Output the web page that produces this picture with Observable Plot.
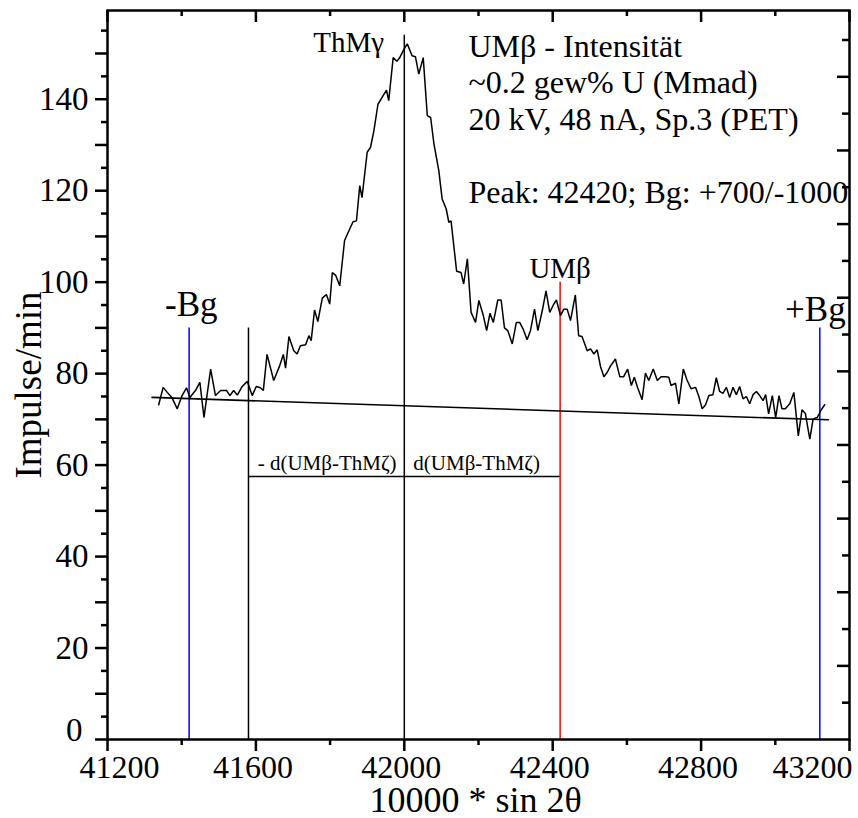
<!DOCTYPE html>
<html><head><meta charset="utf-8">
<script src="https://cdn.jsdelivr.net/npm/d3@7"></script>
<script src="https://cdn.jsdelivr.net/npm/@observablehq/plot@0.6"></script>
<style>html,body{margin:0;padding:0;background:#fff;}</style>
</head><body><div id="chart"></div>
<script>
// scan: 10000*sin2θ vs Impulse/min
const scanX = [41338,41350,41361,41374,41388,41401,41413,41422,41437,41449,41460,41478,41491,41505,41521,41530,41540,41550,41563,41577,
41590,41601,41612,41620,41630,41648,41664,41674,41680,41689,41702,41711,41720,41734,41743,41749,41758,41767,41779,41790,
41799,41806,41815,41826,41839,41855,41862,41871,41880,41886,41900,41909,41918,41929,41943,41952,41958,41970,41980,41987,
41999,42008,42021,42030,42039,42051,42062,42071,42080,42093,42102,42113,42120,42126,42141,42153,42160,42170,42180,42192,
42201,42213,42222,42231,42240,42252,42261,42270,42279,42291,42302,42311,42320,42331,42340,42351,42360,42372,42382,42392,
42401,42410,42421,42430,42439,42448,42461,42470,42479,42493,42502,42511,42520,42529,42538,42547,42556,42569,42581,42591,
42602,42612,42620,42629,42641,42650,42659,42671,42682,42692,42704,42713,42719,42731,42740,42752,42762,42773,42785,42794,
42803,42812,42821,42832,42841,42850,42859,42868,42877,42886,42895,42904,42913,42922,42931,42940,42949,42958,42967,42974,
42982,42992,43001,43010,43018,43027,43039,43050,43062,43072,43081,43093,43102,43113,43124,43133];
const scanY = [73.2,77.0,75.9,74.7,72.3,75.2,76.9,74.8,76.3,78.1,70.4,81.0,75.2,76.3,76.3,75.2,76.3,75.3,77.2,78.3,
75.2,77.2,76.9,76.3,84.2,78.5,81.7,84.2,81.2,88.1,85.0,84.3,86.1,86.3,88.3,87.2,93.9,91.4,96.5,97.3,
95.2,102.1,101.5,99.2,109.1,112.0,113.2,113.4,121.1,118.5,128.4,129.5,133.1,138.9,140.8,142.0,139.7,149.1,148.3,149.0,
150.9,152.1,149.5,149.3,145.5,149.1,136.4,136.0,130.2,124.4,118.2,116.0,113.1,113.4,102.4,102.1,99.6,105.1,93.4,91.2,
96.0,92.7,89.4,93.2,91.2,96.1,96.1,90.0,89.4,86.5,91.2,91.2,89.8,87.4,89.4,94.1,89.4,93.8,98.1,93.4,
94.9,96.1,92.7,94.1,94.1,91.6,97.2,88.3,88.1,85.0,85.4,84.3,85.2,81.5,79.3,80.3,81.7,83.2,79.3,79.3,
81.0,77.4,79.2,76.9,74.3,80.1,78.5,81.0,78.5,79.3,79.3,79.2,77.4,77.9,73.4,81.0,78.6,76.7,77.0,75.0,
72.3,73.2,75.2,75.4,79.1,76.1,75.7,77.0,74.8,77.0,75.4,77.2,74.5,75.0,73.4,75.4,76.1,75.2,74.1,75.4,
71.2,75.2,70.4,75.2,72.3,72.3,73.4,75.9,66.4,72.1,71.3,65.7,70.1,70.4,72.1,73.2];

// background line (linear)
const baseX = [41320, 43143];
const baseY = [74.8, 69.9];

// marker lines
const bgMarkX = [41420, 43120];
const bgMarkTop = [90, 90];
const refMarkX = [41580, 42000];
const refMarkTop = [90, 154];
const peakMarkX = [42420];
const peakMarkTop = [100];

// distance bar
const distX = [41580, 42420];
const distY = 57.5;
const distLabels = ["- d(UMβ-ThMζ)", "d(UMβ-ThMζ)"];
const distLabelX = [41792, 42195];
const distLabelY = 59;

// annotations
const bgLabels = ["-Bg", "+Bg"];
const bgLabelX = [41426, 43108];
const bgLabelY = [92.7, 91.6];
const lineLabels = ["ThMγ", "UMβ"];
const lineLabelX = [41850, 42420];
const lineLabelY = [150.4, 101];
const infoLines = ["UMβ - Intensität", "~0.2 gew% U (Mmad)", "20 kV, 48 nA, Sp.3 (PET)", "", "Peak: 42420; Bg: +700/-1000"];
const infoX = 42173;
const infoY = 117.4;

// axes
const xLabelTicks = [41200, 41600, 42000, 42400, 42800, 43200];
const xMinorTicks = [41400, 41800, 42200, 42600, 43000];
const yLabelTicks = [0, 20, 40, 60, 80, 100, 120, 140];
const yTens = d3.range(0, 160, 10);
const yFives = d3.range(5, 160, 10);
const rightTicksLong = d3.range(2, 20, 2).map(k => k * 8.05);
const rightTicksShort = d3.range(1, 20, 2).map(k => k * 8.05);
const xTitle = "10000 * sin 2θ";
const yTitle = "Impulse/min";

const scan = scanX.map((x, i) => ({x, y: scanY[i]}));
const base = baseX.map((x, i) => ({x, y: baseY[i]}));

const W = 858, H = 818, mL = 107, mR = 9, mT = 10, mB = 79;
const fw = W - mL - mR, fh = H - mT - mB;
const F = "'Liberation Serif', 'Times New Roman', serif";
const num = d => String(d);

const chart = Plot.plot({
  width: W, height: H,
  marginLeft: mL, marginRight: mR, marginTop: mT, marginBottom: mB,
  x: {domain: [41200, 43200], axis: null},
  y: {domain: [0, 159.4], axis: null},
  style: {fontFamily: F, background: "white", color: "black"},
  marks: [
    // marker rules
    Plot.ruleX(bgMarkX, {x: d => d, y1: 0, y2: (d, i) => bgMarkTop[i], stroke: "#0000ff", strokeWidth: 1.5}),
    Plot.ruleX(refMarkX, {x: d => d, y1: 0, y2: (d, i) => refMarkTop[i], stroke: "black", strokeWidth: 1.5}),
    Plot.ruleX(peakMarkX, {x: d => d, y1: 0, y2: (d, i) => peakMarkTop[i], stroke: "#ff0000", strokeWidth: 1.5}),
    Plot.ruleY([distY], {y: d => d, x1: distX[0], x2: distX[1], stroke: "black", strokeWidth: 1.5}),
    // background line
    Plot.line(base, {x: "x", y: "y", stroke: "black", strokeWidth: 1.6}),
    // scan
    Plot.line(scan, {x: "x", y: "y", stroke: "black", strokeWidth: 1.5, strokeLinejoin: "miter"}),
    // frame
    Plot.frame({stroke: "black", strokeWidth: 2.5}),
    // bottom ticks (outward)
    Plot.tickX(xLabelTicks, {x: d => d, insetTop: fh, insetBottom: -12, stroke: "black", strokeWidth: 2.5}),
    Plot.tickX(xMinorTicks, {x: d => d, insetTop: fh, insetBottom: -6, stroke: "black", strokeWidth: 2.5}),
    // top ticks (inward)
    Plot.tickX(xLabelTicks, {x: d => d, insetTop: 0, insetBottom: fh - 12, stroke: "black", strokeWidth: 2.5}),
    Plot.tickX(xMinorTicks, {x: d => d, insetTop: 0, insetBottom: fh - 6, stroke: "black", strokeWidth: 2.5}),
    // left ticks (outward)
    Plot.tickY(yTens, {y: d => d, insetLeft: -12, insetRight: fw, stroke: "black", strokeWidth: 2.5}),
    Plot.tickY(yFives, {y: d => d, insetLeft: -6, insetRight: fw, stroke: "black", strokeWidth: 2.5}),
    // right ticks (inward)
    Plot.tickY(rightTicksLong, {y: d => d, insetLeft: fw - 12, insetRight: 0, stroke: "black", strokeWidth: 2.5}),
    Plot.tickY(rightTicksShort, {y: d => d, insetLeft: fw - 7, insetRight: 0, stroke: "black", strokeWidth: 2.5}),
    // x tick labels
    Plot.text(xLabelTicks.slice(0, 1), {x: d => d, text: num, frameAnchor: "bottom", dy: 38, dx: 12, lineAnchor: "bottom", textAnchor: "middle", fontSize: 32, fontFamily: F, fill: "black"}),
    Plot.text(xLabelTicks.slice(1, -1), {x: d => d, text: num, frameAnchor: "bottom", dy: 38, dx: -3, lineAnchor: "bottom", textAnchor: "middle", fontSize: 32, fontFamily: F, fill: "black"}),
    Plot.text(xLabelTicks.slice(-1), {x: d => d, text: num, frameAnchor: "bottom", dy: 38, dx: 3, lineAnchor: "bottom", textAnchor: "end", fontSize: 32, fontFamily: F, fill: "black"}),
    // y tick labels
    Plot.text(yLabelTicks.slice(0, 1), {y: d => d, text: num, frameAnchor: "left", dx: -25, dy: -9, textAnchor: "end", lineAnchor: "middle", fontSize: 33, fontFamily: F, fill: "black"}),
    Plot.text(yLabelTicks.slice(1), {y: d => d, text: num, frameAnchor: "left", dx: -19, textAnchor: "end", lineAnchor: "middle", fontSize: 33, fontFamily: F, fill: "black"}),
    // axis titles
    Plot.text([xTitle], {frameAnchor: "bottom", dy: 72, dx: -3, lineAnchor: "bottom", textAnchor: "middle", fontSize: 36, fontFamily: F, fill: "black"}),
    Plot.text([yTitle], {frameAnchor: "left", dx: -67, dy: 10, rotate: -90, lineAnchor: "bottom", textAnchor: "middle", fontSize: 37, fontFamily: F, fill: "black"}),
    // annotations
    Plot.text(bgLabels, {x: (d, i) => bgLabelX[i], y: (d, i) => bgLabelY[i], text: d => d, lineAnchor: "bottom", textAnchor: "middle", fontSize: 35, fontFamily: F, fill: "black"}),
    Plot.text(lineLabels, {x: (d, i) => lineLabelX[i], y: (d, i) => lineLabelY[i], text: d => d, lineAnchor: "bottom", textAnchor: "middle", fontSize: 29, fontFamily: F, fill: "black"}),
    Plot.text(distLabels, {x: (d, i) => distLabelX[i], y: distLabelY, text: d => d, lineAnchor: "bottom", textAnchor: "middle", fontSize: 21, fontFamily: F, fill: "black"}),
    Plot.text([infoLines.join("\n")], {x: infoX, y: infoY, lineAnchor: "bottom", textAnchor: "start", lineHeight: 1.14, fontSize: 32, fontFamily: F, fill: "black"})
  ]
});
document.getElementById("chart").appendChild(chart);
</script>
</body></html>
